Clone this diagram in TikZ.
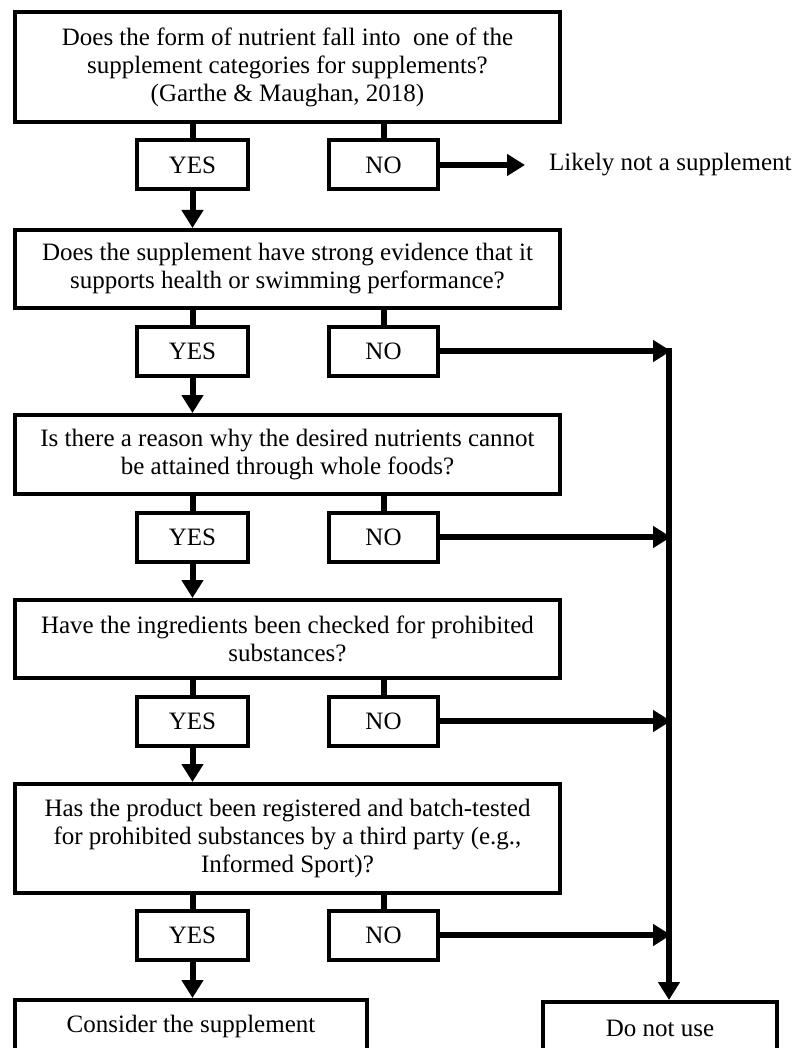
\documentclass[tikz,border=0pt]{standalone}
\usepackage{fontspec}
\setmainfont{Liberation Serif}
\usetikzlibrary{arrows.meta}
\begin{document}
\begin{tikzpicture}[x=1pt,y=-1pt,
  qbox/.style={draw, line width=4pt, align=center, inner sep=0pt, minimum width=545pt, font=\fontsize{25}{28}\selectfont},
  ybox/.style={draw, line width=4pt, inner sep=0pt, minimum width=111pt, minimum height=49pt, font=\fontsize{25}{28}\selectfont},
  nbox/.style={ybox, minimum width=109pt},
  endbox/.style={draw, line width=4pt, inner sep=0pt, minimum height=52pt, font=\fontsize{25}{28}\selectfont},
  conn/.style={line width=6pt},
  arr/.style={conn, -{Triangle[length=18pt,width=21pt]}}
]
\useasboundingbox (0,0) rectangle (798,1048);
\clip (0,0) rectangle (798,1048);

% questions
\node[qbox, minimum height=110pt] (q1) at (287.5,67) {Does the form of nutrient fall into\ \ one of the\\ supplement categories for supplements?\\ (Garthe \& Maughan, 2018)};
\node[qbox, minimum height=78pt] (q2) at (287.5,269) {Does the supplement have strong evidence that it\\ supports health or swimming performance?};
\node[qbox, minimum height=79pt] (q3) at (287.5,454.5) {Is there a reason why the desired nutrients cannot\\ be attained through whole foods?};
\node[qbox, minimum height=78pt] (q4) at (287.5,639) {Have the ingredients been checked for prohibited\\ substances?};
\node[qbox, minimum height=109pt] (q5) at (287.5,838.5) {Has the product been registered and batch-tested\\ for prohibited substances by a third party (e.g.,\\ Informed Sport)?};

% yes / no
\node[ybox] (y1) at (192.5,165) {YES};
\node[nbox] (n1) at (383.5,165) {NO};
\node[ybox] (y2) at (192.5,351) {YES};
\node[nbox] (n2) at (383.5,351) {NO};
\node[ybox] (y3) at (192.5,537) {YES};
\node[nbox] (n3) at (383.5,537) {NO};
\node[ybox] (y4) at (192.5,721) {YES};
\node[nbox] (n4) at (383.5,721) {NO};
\node[ybox] (y5) at (192.5,935) {YES};
\node[nbox] (n5) at (383.5,935) {NO};

% ends
\node[inner sep=0pt, anchor=west, font=\fontsize{25}{28}\selectfont] (likely) at (549,165) {Likely not a supplement};
\node[endbox, minimum width=352pt] (cons) at (191,1026) {Consider the supplement};
\node[endbox, minimum width=234pt] (dnu) at (660,1028) {Do not use};

% stubs
\foreach \q/\y/\n in {q1/y1/n1, q2/y2/n2, q3/y3/n3, q4/y4/n4, q5/y5/n5}{
  \draw[conn] (\y.north |- \q.south) -- (\y.north);
  \draw[conn] (\n.north |- \q.south) -- (\n.north);
}
% yes arrows
\draw[arr] (y1.south) -- (y1.south |- q2.north);
\draw[arr] (y2.south) -- (y2.south |- q3.north);
\draw[arr] (y3.south) -- (y3.south |- q4.north);
\draw[arr] (y4.south) -- (y4.south |- q5.north);
\draw[arr] (y5.south) -- (y5.south |- cons.north);

% no arrows
\draw[arr, shorten >=24pt] (n1.east) -- (likely.west);
\coordinate (vtop) at (669,348);
\draw[arr] (vtop) -- (vtop |- dnu.north);
\foreach \n in {n2,n3,n4,n5}{
  \draw[arr] (\n.east) -- (\n.east -| 671,0);
}
\end{tikzpicture}
\end{document}
